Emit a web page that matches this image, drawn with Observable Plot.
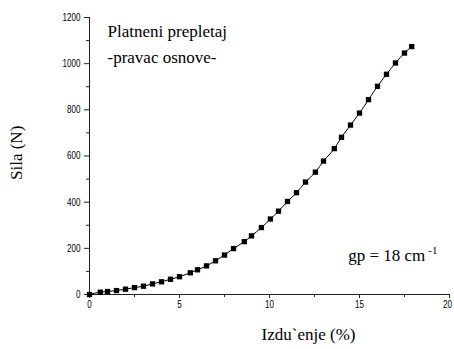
<!DOCTYPE html>
<html><head><meta charset="utf-8">
<script src="https://cdn.jsdelivr.net/npm/d3@7"></script>
<script src="https://cdn.jsdelivr.net/npm/@observablehq/plot@0.6"></script>
<style>body{margin:0;background:#fff;overflow:hidden}</style>
</head><body><div id="chart"></div>
<script>
const strain = [0, 0.6, 1.0, 1.5, 2.0, 2.5, 3.0, 3.5, 4.0, 4.5, 5.0, 5.6, 6.0, 6.5, 7.0, 7.5, 8.0, 8.6, 9.0, 9.55, 10.05, 10.5, 11.0, 11.5, 12.0, 12.55, 13.0, 13.6, 14.0, 14.5, 15.0, 15.5, 16.0, 16.5, 17.0, 17.5, 17.9];
const force = [0, 10, 13, 17, 23, 30, 36, 46, 55, 66, 77, 94, 107, 124, 146, 171, 199, 229, 254, 290, 327, 361, 403, 441, 487, 530, 578, 632, 681, 734, 786, 844, 902, 954, 1003, 1046, 1074];
const xMajorTicks = [0, 5, 10, 15, 20];
const xMinorTicks = [2.5, 7.5, 12.5, 17.5];
const yMajorTicks = [0, 200, 400, 600, 800, 1000, 1200];
const yMinorTicks = [100, 300, 500, 700, 900, 1100];
const titleLines = ["Platneni prepletaj", "-pravac osnove-"];
const noteText = "gp = 18 cm";
const noteSup = "-1";
const xLabel = "Izdu`enje (%)";
const yLabel = "Sila (N)";

const data = strain.map((x, i) => ({x, y: force[i]}));
const serif = '"Liberation Serif", serif';

const chart = Plot.plot({
  width: 454, height: 349,
  marginLeft: 89, marginRight: 5, marginTop: 17, marginBottom: 55,
  x: {domain: [0, 20]},
  y: {domain: [0, 1200]},
  style: {fontFamily: '"Liberation Sans", sans-serif', fontSize: "10.5px"},
  marks: [
    Plot.axisX({ticks: xMajorTicks, tickSize: 4, tickPadding: 2, label: null, tickFormat: d => String(d), stroke: "#222"}),
    Plot.axisX({ticks: xMinorTicks, tickSize: 3, label: null, tickFormat: () => "", stroke: "#222"}),
    Plot.axisY({ticks: yMajorTicks, tickSize: 5, tickPadding: 4, label: null, tickFormat: d => String(d), stroke: "#222"}),
    Plot.axisY({ticks: yMinorTicks, tickSize: 3, label: null, tickFormat: () => "", stroke: "#222"}),
    Plot.ruleX([0], {stroke: "#222"}),
    Plot.ruleY([0], {stroke: "#222"}),
    Plot.line(data, {x: "x", y: "y", stroke: "#000", strokeWidth: 1, curve: "monotone-x"}),
    Plot.dot(data, {x: "x", y: "y", symbol: "square", r: 3, fill: "#000", stroke: "none"}),
    Plot.text([titleLines[0]], {x: 1.0, y: 1140, textAnchor: "start", fontFamily: serif, fontSize: 17, fill: "#000"}),
    Plot.text([titleLines[1]], {x: 1.0, y: 1025, textAnchor: "start", fontFamily: serif, fontSize: 17, fill: "#000"}),
    Plot.text([noteText], {x: 14.37, y: 169, textAnchor: "start", fontFamily: serif, fontSize: 17, fill: "#000", className: "note"}),
    Plot.text([yLabel], {frameAnchor: "left", dx: -73, dy: 24, rotate: -90, fontFamily: serif, fontSize: 17, fill: "#000"}),
    Plot.text([xLabel], {frameAnchor: "bottom", dx: 39, dy: 45, fontFamily: serif, fontSize: 17, fill: "#000"})
  ]
});
document.getElementById("chart").appendChild(chart);
// condense tick labels to mimic a narrow sans face
chart.querySelectorAll('g[aria-label="x-axis tick label"] text, g[aria-label="y-axis tick label"] text').forEach(t => {
  const n = t.textContent.length;
  if (n > 0) {
    t.setAttribute("textLength", (n * 4.5).toFixed(1));
    t.setAttribute("lengthAdjust", "spacingAndGlyphs");
  }
  if (t.textContent === String(xMajorTicks[xMajorTicks.length - 1]) && t.closest('g[aria-label="x-axis tick label"]')) {
    t.setAttribute("dx", "-2");
  }
});
const noteEl = chart.querySelector(".note text") || Array.from(chart.querySelectorAll("text")).find(t => t.textContent === noteText);
if (noteEl) {
  const ts = document.createElementNS("http://www.w3.org/2000/svg", "tspan");
  ts.textContent = noteSup;
  ts.setAttribute("dy", "-7");
  ts.setAttribute("dx", "3");
  ts.setAttribute("font-size", "11");
  noteEl.appendChild(ts);
}
</script>
</body></html>
